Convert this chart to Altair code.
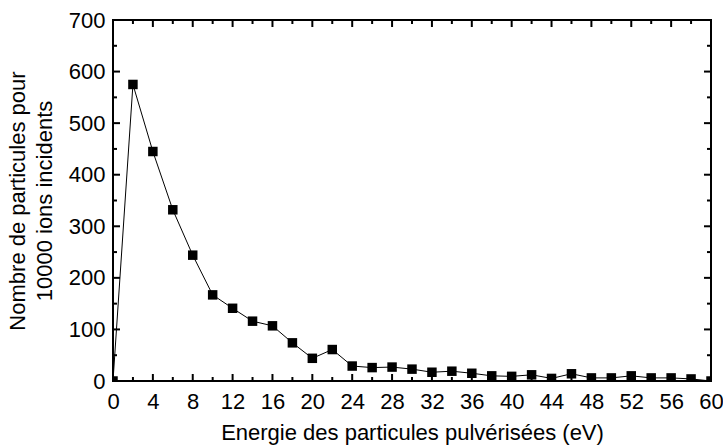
import altair as alt
import pandas as pd

energy = [0, 2, 4, 6, 8, 10, 12, 14, 16, 18, 20, 22, 24, 26, 28, 30,
          32, 34, 36, 38, 40, 42, 44, 46, 48, 50, 52, 54, 56, 58, 60]
count = [0, 575, 445, 332, 244, 167, 141, 116, 107, 74, 44, 61, 29, 26, 27, 23,
         17, 19, 15, 10, 9, 12, 5, 14, 6, 6, 10, 6, 6, 4, 0]

x_major = list(range(0, 61, 4))
x_minor = list(range(2, 60, 4))
y_major = list(range(0, 701, 100))
y_minor = list(range(50, 700, 100))

W, H = 598, 361
FONT = "Liberation Sans"
FS = 22

df = pd.DataFrame({"e": energy, "n": count})
xs = alt.Scale(domain=[0, 60], nice=False, zero=False)
ys = alt.Scale(domain=[0, 700], nice=False, zero=False)

x_axis = alt.Axis(values=x_major, ticks=False, domain=False, grid=False,
                  labelPadding=10, labelFontSize=FS, labelFont=FONT, labelColor="black",
                  title="Energie des particules pulvérisées (eV)", titleFontSize=FS,
                  titleFont=FONT, titleFontWeight="normal", titleColor="black", titlePadding=10,
                  labelFlush=False, labelOverlap=False)
y_axis = alt.Axis(values=y_major, ticks=False, domain=False, grid=False,
                  labelPadding=8, labelFontSize=FS, labelFont=FONT, labelColor="black",
                  title=["Nombre de particules pour", "10000 ions incidents"],
                  titleFontSize=FS, titleFont=FONT, titleFontWeight="normal",
                  titleColor="black", titlePadding=12, titleLineHeight=27,
                  labelFlush=False, labelOverlap=False)

line = alt.Chart(df).mark_line(color="black", strokeWidth=1, clip=True).encode(
    x=alt.X("e:Q", scale=xs, axis=x_axis),
    y=alt.Y("n:Q", scale=ys, axis=y_axis),
)
pts = alt.Chart(df).mark_square(color="black", opacity=1, size=90, clip=True).encode(
    x=alt.X("e:Q", scale=xs, axis=None),
    y=alt.Y("n:Q", scale=ys, axis=None),
)


def xticks(vals, length):
    d = pd.DataFrame({"t": vals})
    out = []
    for ypos in (0, H):
        out.append(alt.Chart(d).mark_tick(color="black", thickness=2, size=2 * length,
                                          opacity=1, clip=True).encode(
            x=alt.X("t:Q", scale=xs, axis=None), y=alt.value(ypos)))
    return out


def yticks(vals, length):
    d = pd.DataFrame({"t": vals})
    out = []
    for xpos in (0, W):
        out.append(alt.Chart(d).mark_tick(color="black", thickness=2, size=2 * length,
                                          opacity=1, clip=True, orient="horizontal").encode(
            y=alt.Y("t:Q", scale=ys, axis=None), x=alt.value(xpos)))
    return out


layers = [line, pts] + xticks(x_major, 7) + xticks(x_minor, 4) + yticks(y_major, 7) + yticks(y_minor, 4)

chart = alt.layer(*layers).resolve_scale(
    x="independent", y="independent"
).resolve_axis(
    x="independent", y="independent"
).properties(
    width=W, height=H,
    autosize="none",
    padding={"left": 113, "top": 20, "right": 12, "bottom": 65},
    background="white",
).configure_view(stroke="black", strokeWidth=2)

chart.save("out.html", embed_options={"renderer": "svg", "actions": False})
